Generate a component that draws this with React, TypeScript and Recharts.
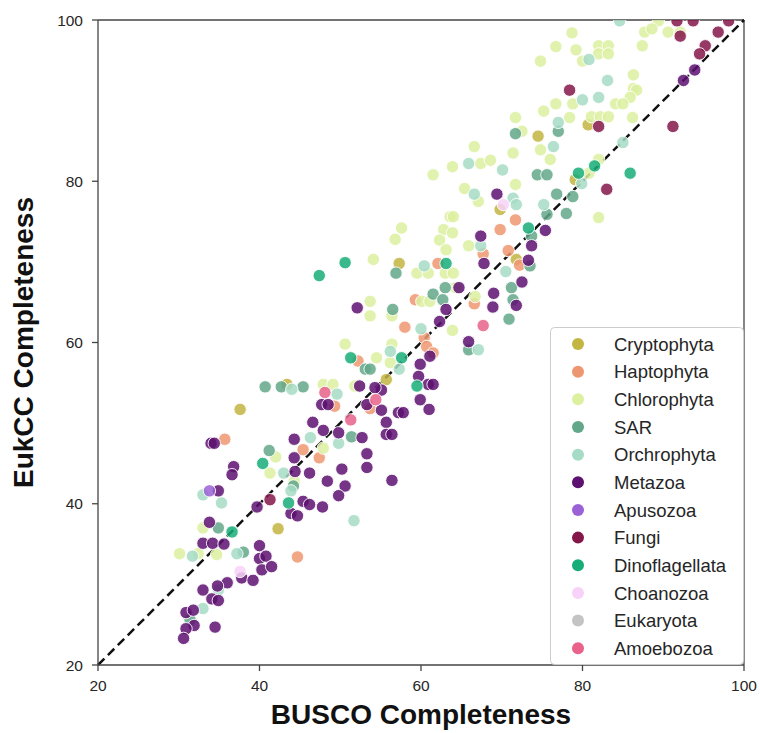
import React from "react";
import {
  ScatterChart,
  Scatter,
  XAxis,
  YAxis,
  ReferenceLine,
  Legend,
} from "recharts";

// [BUSCO, EukCC] pairs per group
const cryptophyta = [
  [74.5, 85.6], [69.8, 76.5], [80.7, 87.0], [79.1, 80.2], [57.3, 69.8], [71.8, 70.3],
  [55.7, 55.4], [43.4, 54.8], [37.6, 51.7], [42.3, 36.9],
];

const haptophyta = [
  [71.7, 75.2], [69.8, 74.0], [67.7, 71.0], [70.8, 71.4], [62.1, 69.8], [72.2, 69.6],
  [59.3, 65.3], [66.6, 64.8], [58.0, 61.9], [60.4, 60.6], [60.7, 59.5], [61.5, 58.7],
  [52.2, 57.7], [49.3, 52.1], [53.7, 51.8], [35.7, 48.0], [45.4, 46.7], [47.4, 45.7],
  [44.7, 33.4],
];

const chlorophyta = [
  [76.7, 96.7], [74.8, 94.9], [76.7, 89.6], [75.2, 88.7], [71.7, 87.9], [72.5, 86.2],
  [74.8, 83.9], [76.0, 82.7], [71.4, 83.5], [66.6, 84.3], [67.4, 82.2], [68.6, 82.6],
  [63.9, 81.8], [61.5, 80.8], [71.7, 79.6], [65.4, 79.1], [67.1, 77.5], [63.6, 75.6],
  [64.0, 75.6], [57.6, 74.2], [62.8, 74.0],
  [89.4, 99.9], [78.7, 98.4], [87.7, 98.5], [88.6, 98.9], [90.6, 98.5], [92.1, 98.5],
  [79.2, 96.3], [82.0, 96.8], [83.2, 96.8], [82.0, 95.8], [83.2, 95.8], [80.0, 94.9],
  [87.4, 96.8], [86.3, 93.2], [86.3, 91.5], [86.7, 91.3], [85.9, 90.4], [78.8, 89.6],
  [84.1, 89.6], [85.0, 89.6], [78.4, 87.9], [81.1, 88.0], [82.2, 88.0], [83.2, 88.0],
  [86.2, 87.9], [82.0, 82.7], [80.8, 81.0], [82.0, 75.5],
  [56.8, 72.8], [63.9, 73.6], [62.3, 72.7], [65.9, 72.0], [63.1, 71.5], [54.1, 70.3],
  [59.5, 68.6], [60.9, 68.6], [63.0, 68.6], [64.0, 68.6], [64.3, 66.8], [66.7, 65.7],
  [60.1, 65.1], [61.1, 65.1], [53.7, 65.1], [56.4, 63.3], [53.7, 63.3], [63.9, 61.5],
  [50.6, 59.8], [56.4, 59.8], [54.5, 58.1], [56.2, 57.5], [47.9, 54.8], [49.1, 54.8],
  [51.8, 54.6],
  [42.0, 45.8], [41.3, 43.8], [47.9, 46.9], [44.3, 42.8], [33.0, 37.0], [30.1, 33.8],
  [32.4, 33.8], [34.7, 33.7],
];

const sar = [
  [71.7, 85.9], [77.0, 86.2], [74.4, 80.8], [75.6, 80.8], [76.8, 78.4], [75.6, 75.9],
  [78.8, 78.1], [78.0, 76.0], [73.7, 73.2], [56.9, 68.6], [73.5, 69.5], [63.0, 66.8],
  [71.2, 66.8], [61.5, 66.0], [62.7, 65.3], [71.4, 65.3], [56.5, 64.1], [70.9, 62.9],
  [65.9, 59.1], [53.1, 56.7], [53.7, 56.7], [51.4, 48.3], [40.7, 54.5], [42.7, 54.5],
  [45.4, 54.5], [41.2, 46.6], [44.2, 42.2], [34.9, 37.0], [38.0, 34.0], [31.4, 25.6],
];

const orchrophyta = [
  [77.0, 87.3], [65.9, 82.2], [70.1, 81.4], [66.6, 78.4], [71.4, 77.9], [71.8, 77.1],
  [75.2, 77.1], [84.6, 99.9], [80.8, 95.1], [83.1, 92.5], [82.0, 90.4], [80.0, 90.1],
  [76.4, 84.3], [85.0, 84.8], [79.9, 79.7], [67.4, 72.0], [60.4, 69.5], [70.5, 68.8],
  [60.0, 61.7], [67.1, 59.1], [56.2, 58.9], [57.3, 56.7], [49.6, 53.6], [44.0, 54.2],
  [46.3, 48.2], [49.8, 47.5], [43.0, 43.8], [43.9, 41.6], [33.0, 41.1], [35.3, 40.1],
  [31.7, 33.5], [37.2, 33.8], [34.9, 29.3], [33.0, 27.0], [51.7, 37.9],
];

const metazoa = [
  [69.4, 78.4], [75.4, 73.9], [93.9, 93.8], [92.5, 92.5], [67.4, 73.2], [73.7, 72.0],
  [67.8, 69.8], [73.3, 70.2], [72.5, 67.5], [64.7, 66.8], [69.0, 66.1], [71.8, 64.6],
  [68.9, 64.4], [52.1, 64.3], [63.1, 64.1], [62.3, 62.6], [65.9, 60.1], [61.1, 58.3],
  [59.9, 57.3], [59.7, 55.8], [60.9, 54.8], [61.5, 54.8], [52.4, 54.6], [55.1, 54.1],
  [54.3, 54.4], [53.3, 52.3], [47.7, 52.3], [48.5, 52.3], [55.1, 51.6], [59.9, 52.9],
  [61.0, 51.7], [57.2, 51.3], [57.8, 51.3], [55.7, 50.1], [47.9, 49.1], [49.8, 48.8],
  [52.7, 48.2], [55.7, 48.6], [56.4, 48.6], [46.6, 50.1], [34.0, 47.5], [34.4, 47.5],
  [44.3, 48.0], [44.3, 45.7], [44.4, 44.0], [46.2, 43.8], [48.4, 42.8], [36.8, 44.6],
  [36.6, 43.6], [34.9, 41.6], [39.7, 39.6], [45.4, 40.3], [46.2, 39.9], [47.8, 39.6],
  [43.9, 38.8], [44.7, 38.5], [33.8, 37.7], [33.0, 35.1], [34.2, 35.1], [35.6, 35.0],
  [40.0, 34.8], [40.0, 33.2], [40.8, 33.5], [40.3, 31.8], [41.5, 32.2], [37.8, 30.8],
  [39.2, 30.5], [36.0, 30.2], [34.8, 29.8], [33.0, 29.3], [34.1, 28.2], [34.9, 28.0],
  [30.9, 26.5], [31.8, 26.8], [31.9, 24.9], [30.9, 24.5], [34.5, 24.7], [30.6, 23.3],
  [53.3, 46.2], [53.3, 44.5], [50.2, 44.3], [50.6, 42.2], [49.8, 41.0], [56.4, 42.9],
];

const apusozoa = [[33.8, 41.6]];

const fungi = [
  [91.7, 99.9], [93.7, 99.9], [98.1, 99.9], [92.1, 98.0], [96.8, 98.5], [95.2, 96.8],
  [94.5, 95.8], [78.4, 91.3], [82.0, 86.8], [91.2, 86.8], [83.0, 79.0], [41.3, 40.5],
];

const dinoflagellata = [
  [73.3, 74.2], [81.5, 81.9], [85.9, 81.0], [79.5, 81.0], [47.4, 68.3], [50.6, 69.9],
  [63.1, 69.8], [51.3, 58.1], [57.6, 58.1], [59.5, 54.6], [40.4, 45.0], [43.6, 40.1],
  [36.6, 36.5],
];

const choanozoa = [[37.6, 31.6], [70.2, 77.1]];

const eukaryota: number[][] = [];

const amoebozoa = [[67.7, 62.1], [48.1, 53.8], [54.4, 52.9], [51.3, 50.4]];

const groups = [
  { name: "Cryptophyta", color: "#c2b541", points: cryptophyta },
  { name: "Haptophyta", color: "#ee9670", points: haptophyta },
  { name: "Chlorophyta", color: "#dcf0a0", points: chlorophyta },
  { name: "SAR", color: "#63a78a", points: sar },
  { name: "Orchrophyta", color: "#a6dcc6", points: orchrophyta },
  { name: "Metazoa", color: "#5d1170", points: metazoa },
  { name: "Apusozoa", color: "#9a62d6", points: apusozoa },
  { name: "Fungi", color: "#85164a", points: fungi },
  { name: "Dinoflagellata", color: "#16ad78", points: dinoflagellata },
  { name: "Choanozoa", color: "#f8d2f8", points: choanozoa },
  { name: "Eukaryota", color: "#c4c4c4", points: eukaryota },
  { name: "Amoebozoa", color: "#e8628a", points: amoebozoa },
];

const axisTicks = [20, 40, 60, 80, 100];

const FONT = "'Liberation Sans', Arial, Helvetica, sans-serif";
const AXIS_COLOR = "#444";

const renderLegend = () => (
  <svg width={194} height={338} style={{ display: "block" }}>
    <rect x={0.5} y={0.5} width={193} height={337} rx={4} fill="#fff" fillOpacity={0.8} stroke="#cccccc" />
    {groups.map((g, i) => (
      <g key={g.name}>
        <circle cx={28} cy={17 + i * 27.66} r={6} fill={g.color} />
        <text
          x={64}
          y={17 + i * 27.66}
          dy="0.36em"
          fontSize={18.5}
          fill="#262626"
          fontFamily={FONT}
        >
          {g.name}
        </text>
      </g>
    ))}
  </svg>
);

const Dot = (props: any) => {
  const { cx, cy, fill } = props;
  if (cx == null || cy == null) return null;
  return <circle cx={cx} cy={cy} r={6.2} fill={fill} fillOpacity={0.85} stroke="#fff" strokeWidth={0.9} />;
};

const App: React.FC = () => {
  return (
    <div style={{ position: "absolute", left: 0, top: 0, width: 760, height: 733, background: "#fff" }}>
      <ScatterChart
        width={760}
        height={733}
        margin={{ top: 20, right: 16, bottom: 0, left: 0 }}
        style={{ fontFamily: FONT }}
      >
        <XAxis
          type="number"
          dataKey="x"
          domain={[20, 100]}
          ticks={axisTicks}
          allowDataOverflow
          height={68}
          tickSize={6}
          tickMargin={9}
          tick={{ fontSize: 15.5, fill: "#262626" }}
          axisLine={{ stroke: AXIS_COLOR, strokeWidth: 1.3 }}
          tickLine={{ stroke: AXIS_COLOR, strokeWidth: 1.3 }}
          label={{
            content: (p: any) => {
              const vb = p.viewBox;
              return (
                <text
                  x={vb.x + vb.width / 2}
                  y={vb.y + 59}
                  textAnchor="middle"
                  fontSize={28}
                  fontWeight="bold"
                  fill="#111"
                  fontFamily={FONT}
                >
                  BUSCO Completeness
                </text>
              );
            },
          }}
        />
        <YAxis
          type="number"
          dataKey="y"
          domain={[20, 100]}
          ticks={axisTicks}
          allowDataOverflow
          width={98}
          tickSize={6}
          tickMargin={9}
          tick={{ fontSize: 15.5, fill: "#262626" }}
          axisLine={{ stroke: AXIS_COLOR, strokeWidth: 1.3 }}
          tickLine={{ stroke: AXIS_COLOR, strokeWidth: 1.3 }}
          label={{
            content: (p: any) => {
              const vb = p.viewBox;
              const cx = vb.x + 33;
              const cy = vb.y + vb.height / 2;
              return (
                <text
                  x={cx}
                  y={cy}
                  textAnchor="middle"
                  transform={`rotate(-90, ${cx}, ${cy})`}
                  fontSize={28}
                  fontWeight="bold"
                  fill="#111"
                  fontFamily={FONT}
                >
                  EukCC Completeness
                </text>
              );
            },
          }}
        />
        {groups.map((g) => (
          <Scatter
            key={g.name}
            name={g.name}
            data={g.points.map(([x, y]) => ({ x, y }))}
            fill={g.color}
            shape={Dot}
            isAnimationActive={false}
          />
        ))}
        {/* frame on top and right */}
        <ReferenceLine y={100} stroke={AXIS_COLOR} strokeWidth={1.3} />
        <ReferenceLine x={100} stroke={AXIS_COLOR} strokeWidth={1.3} />
        <ReferenceLine
          segment={[
            { x: 20, y: 20 },
            { x: 100, y: 100 },
          ]}
          stroke="#111"
          strokeWidth={2.5}
          strokeDasharray="9 5"
        />
        <Legend
          layout="vertical"
          align="center"
          verticalAlign="middle"
          content={renderLegend}
          wrapperStyle={{ left: 550, top: 327, width: 194, height: 338 }}
        />
      </ScatterChart>
    </div>
  );
};

export default App;
